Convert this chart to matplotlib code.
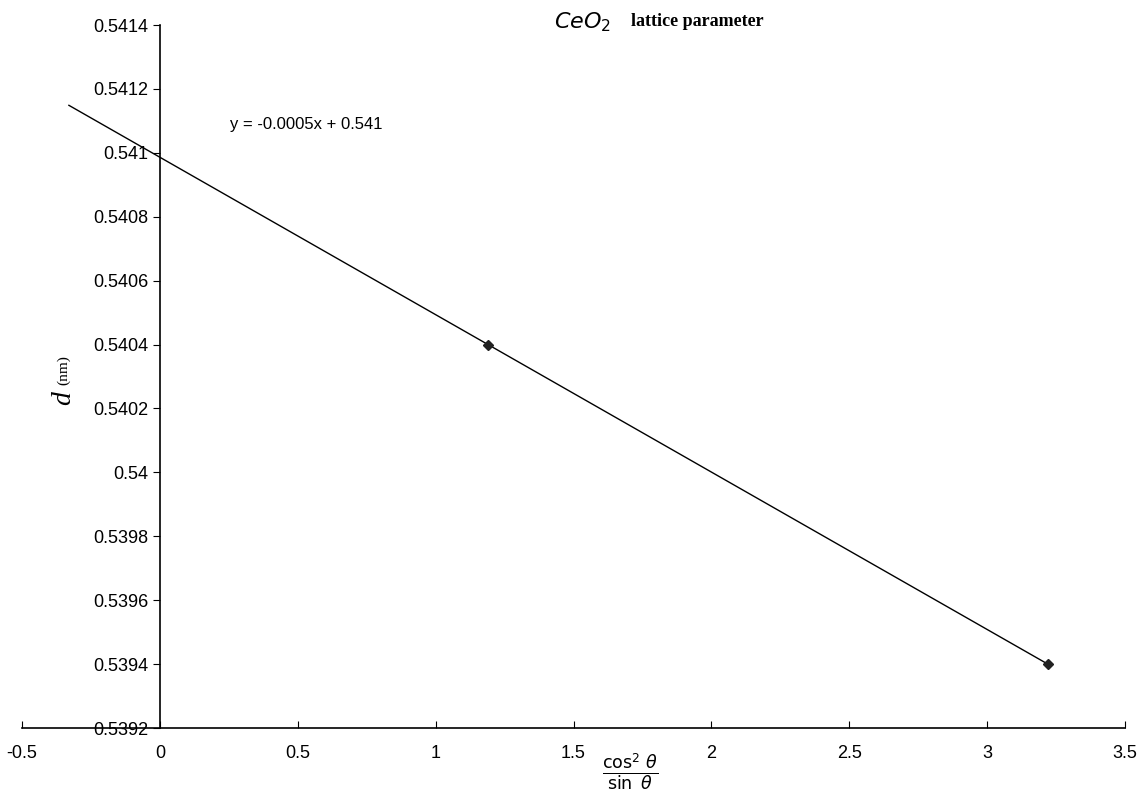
import matplotlib.pyplot as plt
import numpy as np
from matplotlib.ticker import FuncFormatter

# data
x_vals = [1.19, 3.22]
d_vals = [0.54040, 0.53940]
x_ticks = [-0.5, 0, 0.5, 1, 1.5, 2, 2.5, 3, 3.5]
y_ticks = [0.5392, 0.5394, 0.5396, 0.5398, 0.54, 0.5402, 0.5404, 0.5406,
           0.5408, 0.541, 0.5412, 0.5414]
trend_start = -0.33

fig = plt.figure(figsize=(11.41, 8.08), dpi=100)
ax = fig.add_axes([0.0193, 0.099, 0.9667, 0.870])

# linear trendline, extended backwards like the excel one
slope, intercept = np.polyfit(x_vals, d_vals, 1)
xt = np.array([trend_start, x_vals[-1]])
ax.plot(xt, slope * xt + intercept, color='black', lw=1)
ax.plot(x_vals, d_vals, 'D', color='#222222', ms=5.5)

ax.set_xlim(-0.5, 3.5)
ax.set_ylim(0.5392, 0.5414)
ax.set_xticks(x_ticks)
ax.set_yticks(y_ticks)
fmt = FuncFormatter(lambda v, p: '%g' % round(v, 6))
ax.xaxis.set_major_formatter(fmt)
ax.yaxis.set_major_formatter(fmt)

ax.spines['top'].set_visible(False)
ax.spines['right'].set_visible(False)
ax.spines['left'].set_position(('data', 0))
ax.spines['left'].set_linewidth(1.2)
ax.spines['bottom'].set_linewidth(1.2)
ax.tick_params(axis='x', direction='in', length=5, labelsize=13, pad=12)
ax.tick_params(axis='y', direction='out', length=5, labelsize=13)
for lab in ax.get_xticklabels() + ax.get_yticklabels():
    lab.set_family('Liberation Sans')

ax.text(230/1141, 1 - 125/808, 'y = -0.0005x + 0.541', transform=fig.transFigure,
        fontsize=12, family='Liberation Sans', va='center', ha='left')

# title
fig.text(582/1141, 1 - 22/808, r'$\mathit{CeO}_2$', fontsize=16, ha='center', va='center')
fig.text(697/1141, 1 - 21/808, 'lattice parameter', fontsize=13, fontweight='bold',
         family='Liberation Serif', ha='center', va='center')

# y label
fig.text(64/1141, 1 - 398/808, 'd', fontsize=20, style='italic', family='Liberation Serif',
         rotation=90, ha='center', va='center')
fig.text(64/1141, 1 - 370/808, '(nm)', fontsize=11, family='Liberation Serif',
         rotation=90, ha='center', va='center')

# x label
fig.text(630/1141, 1 - 772/808, r'$\frac{\cos^2\,\theta}{\sin\ \theta}$', fontsize=18,
         ha='center', va='center')

fig.savefig('out.png', dpi=100, facecolor='white')
